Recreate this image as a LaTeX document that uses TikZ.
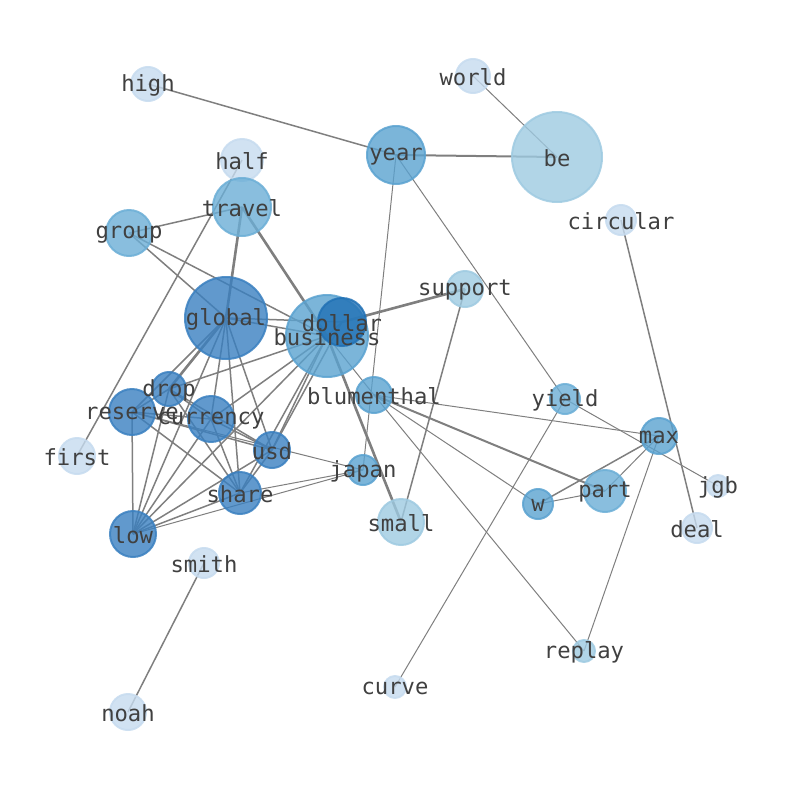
\documentclass[tikz,border=0pt]{standalone}
\usepackage{fontspec}
\newfontfamily\lblfont{DejaVu Sans Mono}
\pgfdeclarelayer{bg}
\pgfsetlayers{bg,main}
\definecolor{cA}{HTML}{C6DBEF}
\definecolor{cB}{HTML}{9ECAE1}
\definecolor{cC}{HTML}{6BAED6}
\definecolor{cD}{HTML}{5AA2D0}
\definecolor{cE}{HTML}{3A80C0}
\definecolor{cF}{HTML}{2171B5}
\definecolor{txt}{HTML}{404040}
\definecolor{edg}{HTML}{7F7F7F}
\begin{document}
\begin{tikzpicture}[x=1pt,y=-1pt,
  nd/.style={circle,inner sep=0pt,line width=2pt,fill opacity=0.8,draw opacity=0.85},
  lbl/.style={font=\lblfont\fontsize{22.2}{24}\selectfont,text=txt,inner sep=0pt,anchor=center,yshift=-1.5pt},
  e/.style={draw=edg,line width=1.5pt},
  et/.style={draw=edg,line width=1pt},
  ek/.style={draw=edg,line width=2.6pt}]
\useasboundingbox (0,0) rectangle (794,790);
% nodes
\node[nd,fill=cA,draw=cA,minimum size=34pt] (high) at (148,84) {};
\node[nd,fill=cA,draw=cA,minimum size=34pt] (world) at (473,76) {};
\node[nd,fill=cD,draw=cD,minimum size=58pt] (year) at (396,155) {};
\node[nd,fill=cB,draw=cB,minimum size=90pt] (be) at (557,157) {};
\node[nd,fill=cA,draw=cA,minimum size=42pt] (half) at (242,160) {};
\node[nd,fill=cC,draw=cC,minimum size=58pt] (travel) at (242,207) {};
\node[nd,fill=cC,draw=cC,minimum size=46pt] (group) at (129,233) {};
\node[nd,fill=cA,draw=cA,minimum size=30pt] (circular) at (621,220) {};
\node[nd,fill=cB,draw=cB,minimum size=36pt] (support) at (465,289) {};
\node[nd,fill=cE,draw=cE,minimum size=82pt] (global) at (226,318) {};
\node[nd,fill=cD,draw=cD,minimum size=82pt] (business) at (327,336) {};
\node[nd,fill=cF,draw=cF,minimum size=48pt] (dollar) at (342,322) {};
\node[nd,fill=cE,draw=cE,minimum size=34pt] (drop) at (169,389) {};
\node[nd,fill=cE,draw=cE,minimum size=46pt] (reserve) at (132,412) {};
\node[nd,fill=cE,draw=cE,minimum size=46pt] (currency) at (211,419) {};
\node[nd,fill=cE,draw=cE,minimum size=36pt] (usd) at (272,450) {};
\node[nd,fill=cD,draw=cD,minimum size=36pt] (blumenthal) at (374,395) {};
\node[nd,fill=cC,draw=cC,minimum size=30pt] (yield) at (565,399) {};
\node[nd,fill=cD,draw=cD,minimum size=36pt] (max) at (659,436) {};
\node[nd,fill=cA,draw=cA,minimum size=36pt] (first) at (77,456) {};
\node[nd,fill=cD,draw=cD,minimum size=30pt] (japan) at (363,470) {};
\node[nd,fill=cE,draw=cE,minimum size=42pt] (share) at (240,493) {};
\node[nd,fill=cA,draw=cA,minimum size=22pt] (jgb) at (718,486) {};
\node[nd,fill=cC,draw=cC,minimum size=42pt] (part) at (605,491) {};
\node[nd,fill=cD,draw=cD,minimum size=30pt] (w) at (538,504) {};
\node[nd,fill=cB,draw=cB,minimum size=46pt] (small) at (401,522) {};
\node[nd,fill=cA,draw=cA,minimum size=30pt] (deal) at (697,528) {};
\node[nd,fill=cE,draw=cE,minimum size=46pt] (low) at (133,534) {};
\node[nd,fill=cA,draw=cA,minimum size=30pt] (smith) at (204,563) {};
\node[nd,fill=cB,draw=cB,minimum size=22pt] (replay) at (584,651) {};
\node[nd,fill=cA,draw=cA,minimum size=22pt] (curve) at (395,687) {};
\node[nd,fill=cA,draw=cA,minimum size=36pt] (noah) at (128,712) {};
% edges
\begin{pgfonlayer}{bg}
\draw[e] (high.center) -- (year.center);
\draw[et] (world.center) -- (be.center);
\draw[e,line width=2pt] (year.center) -- (be.center);
\draw[et] (year.center) -- (japan.center);
\draw[et] (year.center) -- (yield.center);
\draw[e] (half.center) -- (first.center);
\draw[e] (group.center) -- (travel.center);
\draw[e] (group.center) -- (global.center);
\draw[e] (group.center) -- (business.center);
\draw[ek] (travel.center) -- (global.center);
\draw[ek] (travel.center) -- (business.center);
\draw[ek] (global.center) -- (drop.center);
\draw[e] (global.center) -- (reserve.center);
\draw[e] (global.center) -- (currency.center);
\draw[e] (global.center) -- (share.center);
\draw[e] (global.center) -- (usd.center);
\draw[e] (global.center) -- (low.center);
\draw[e] (global.center) -- (business.center);
\draw[e] (global.center) -- (dollar.center);
\draw[e] (drop.center) -- (reserve.center);
\draw[e] (drop.center) -- (currency.center);
\draw[e] (drop.center) -- (usd.center);
\draw[e] (drop.center) -- (share.center);
\draw[e] (drop.center) -- (business.center);
\draw[e] (drop.center) -- (low.center);
\draw[e] (reserve.center) -- (currency.center);
\draw[e] (reserve.center) -- (usd.center);
\draw[e] (reserve.center) -- (share.center);
\draw[e] (reserve.center) -- (low.center);
\draw[et] (reserve.center) -- (japan.center);
\draw[e] (currency.center) -- (usd.center);
\draw[e] (currency.center) -- (share.center);
\draw[e] (currency.center) -- (low.center);
\draw[e] (currency.center) -- (business.center);
\draw[e] (usd.center) -- (share.center);
\draw[e] (usd.center) -- (business.center);
\draw[e] (usd.center) -- (dollar.center);
\draw[e] (usd.center) -- (low.center);
\draw[e] (share.center) -- (business.center);
\draw[et] (share.center) -- (japan.center);
\draw[e] (share.center) -- (low.center);
\draw[et] (low.center) -- (japan.center);
\draw[e] (low.center) -- (business.center);
\draw[e] (business.center) -- (dollar.center);
\draw[et] (business.center) -- (blumenthal.center);
\draw[ek] (business.center) -- (small.center);
\draw[ek] (dollar.center) -- (support.center);
\draw[e] (support.center) -- (small.center);
\draw[e,line width=2pt] (blumenthal.center) -- (part.center);
\draw[et] (blumenthal.center) -- (max.center);
\draw[et] (blumenthal.center) -- (w.center);
\draw[et] (blumenthal.center) -- (replay.center);
\draw[e] (max.center) -- (w.center);
\draw[et] (max.center) -- (part.center);
\draw[et] (max.center) -- (replay.center);
\draw[et] (w.center) -- (part.center);
\draw[et] (yield.center) -- (curve.center);
\draw[et] (yield.center) -- (jgb.center);
\draw[e] (circular.center) -- (deal.center);
\draw[e] (smith.center) -- (noah.center);
\end{pgfonlayer}
% labels
\node[lbl] (lhigh) at (high) {high};
\node[lbl] (lworld) at (world) {world};
\node[lbl] (lyear) at (year) {year};
\node[lbl] (lbe) at (be) {be};
\node[lbl] (lhalf) at (half) {half};
\node[lbl] (ltravel) at (travel) {travel};
\node[lbl] (lgroup) at (group) {group};
\node[lbl] (lcircular) at (circular) {circular};
\node[lbl] (lsupport) at (support) {support};
\node[lbl] (lglobal) at (global) {global};
\node[lbl] (lbusiness) at (business) {business};
\node[lbl] (ldollar) at (dollar) {dollar};
\node[lbl] (ldrop) at (drop) {drop};
\node[lbl] (lreserve) at (reserve) {reserve};
\node[lbl] (lcurrency) at (currency) {currency};
\node[lbl] (lusd) at (usd) {usd};
\node[lbl] (lblumenthal) at (blumenthal) {blumenthal};
\node[lbl] (lyield) at (yield) {yield};
\node[lbl] (lmax) at (max) {max};
\node[lbl] (lfirst) at (first) {first};
\node[lbl] (ljapan) at (japan) {japan};
\node[lbl] (lshare) at (share) {share};
\node[lbl] (ljgb) at (jgb) {jgb};
\node[lbl] (lpart) at (part) {part};
\node[lbl] (lw) at (w) {w};
\node[lbl] (lsmall) at (small) {small};
\node[lbl] (ldeal) at (deal) {deal};
\node[lbl] (llow) at (low) {low};
\node[lbl] (lsmith) at (smith) {smith};
\node[lbl] (lreplay) at (replay) {replay};
\node[lbl] (lcurve) at (curve) {curve};
\node[lbl] (lnoah) at (noah) {noah};
\end{tikzpicture}
\end{document}
